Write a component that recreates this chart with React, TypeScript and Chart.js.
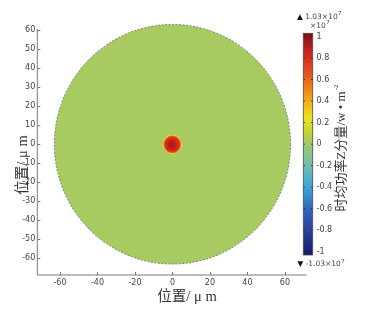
import React, { useEffect, useRef } from 'react';
import { Chart, registerables } from 'chart.js';

Chart.register(...registerables);

// ---- data ----
const X_TICKS = [-60, -40, -20, 0, 20, 40, 60];
const Y_TICKS = [60, 50, 40, 30, 20, 10, 0, -10, -20, -30, -40, -50, -60];
const X_MIN = -72.1;
const X_MAX = 71.6;
const Y_MIN = -68.75;
const Y_MAX = 60.6;
const DISK_RADIUS = 63; // µm, simulation domain
const SPOT_RADIUS = 5.2; // µm, hot spot
const DISK_COLOR = '#a8cb61';
const CB_TICKS = [1, 0.8, 0.6, 0.4, 0.2, 0, -0.2, -0.4, -0.6, -0.8, -1];
const CB_MIN = -1.03;
const CB_MAX = 1.03;
const CB_STOP_VALUES = [1.03, 0.85, 0.65, 0.45, 0.25, 0.08, 0, -0.2, -0.4, -0.6, -0.8, -1.03];
const CB_STOP_COLORS = ['#7c1212', '#cf2222', '#e9541e', '#f39a16', '#efe11e', '#b6d23e', '#9ec86a', '#6fbdb0', '#3ea5dc', '#2c68b9', '#2a42a0', '#1b1a6c'];
const CB_MAX_LABEL = '1.03×10';
const CB_MIN_LABEL = '-1.03×10';
const CB_EXP = '7';
const X_TITLE = '位置/ μ m';
const Y_TITLE = '位置/ μ m';
const CB_TITLE = '时均功率Z分量/w • m';
const CB_TITLE_SUP = '-2';

const TICK_FONT = '8px "DejaVu Sans"';
const TITLE_FONT = '14.5px "Liberation Serif", "Noto Sans CJK SC"';

const fieldPlugin = {
  id: 'fieldPlot',
  beforeDatasetsDraw(chart: any) {
    const { ctx, scales } = chart;
    const x = scales.x;
    const y = scales.y;
    const cx = x.getPixelForValue(0);
    const cy = y.getPixelForValue(0);
    const rx = Math.abs(x.getPixelForValue(DISK_RADIUS) - cx);
    const ry = Math.abs(y.getPixelForValue(DISK_RADIUS) - cy);
    ctx.save();
    ctx.beginPath();
    ctx.ellipse(cx, cy, rx, ry, 0, 0, Math.PI * 2);
    ctx.fillStyle = DISK_COLOR;
    ctx.fill();
    ctx.setLineDash([2, 1.5]);
    ctx.strokeStyle = '#5e5e5e';
    ctx.lineWidth = 0.8;
    ctx.stroke();
    ctx.setLineDash([]);

    // hot spot
    const srx = Math.abs(x.getPixelForValue(SPOT_RADIUS) - cx);
    const sry = Math.abs(y.getPixelForValue(SPOT_RADIUS) - cy);
    ctx.translate(cx, cy);
    ctx.scale(1, sry / srx);
    const g = ctx.createRadialGradient(-1.2, 1.2, 0, 0, 0, srx);
    g.addColorStop(0, '#9e1a1a');
    g.addColorStop(0.35, '#b81f1c');
    g.addColorStop(0.65, '#d92c1c');
    g.addColorStop(0.8, '#e8431a');
    g.addColorStop(0.88, '#f2901a');
    g.addColorStop(0.94, '#f0dc2a');
    g.addColorStop(1, 'rgba(200,210,90,0)');
    ctx.beginPath();
    ctx.arc(0, 0, srx, 0, Math.PI * 2);
    ctx.fillStyle = g;
    ctx.fill();
    ctx.restore();
  },
  afterDraw(chart: any) {
    const { ctx, chartArea, scales } = chart;
    const x = scales.x;
    const y = scales.y;
    ctx.save();
    // axis lines
    ctx.strokeStyle = '#7a7a7a';
    ctx.lineWidth = 1;
    ctx.beginPath();
    ctx.moveTo(chartArea.left, chartArea.top);
    ctx.lineTo(chartArea.left, chartArea.bottom);
    ctx.lineTo(chartArea.right, chartArea.bottom);
    ctx.stroke();
    // inward ticks
    ctx.beginPath();
    X_TICKS.forEach((v) => {
      const px = Math.round(x.getPixelForValue(v)) + 0.5;
      ctx.moveTo(px, chartArea.bottom);
      ctx.lineTo(px, chartArea.bottom - 3);
    });
    Y_TICKS.forEach((v) => {
      const py = Math.round(y.getPixelForValue(v)) + 0.5;
      ctx.moveTo(chartArea.left, py);
      ctx.lineTo(chartArea.left + 3, py);
    });
    ctx.stroke();

    // axis titles
    ctx.fillStyle = '#333';
    ctx.font = TITLE_FONT;
    ctx.textAlign = 'center';
    ctx.textBaseline = 'middle';
    ctx.fillText(X_TITLE, 187, 297);
    ctx.save();
    ctx.translate(23, 165);
    ctx.rotate(-Math.PI / 2);
    ctx.fillText(Y_TITLE, 0, 0);
    ctx.restore();

    // colorbar
    const bl = 303.3;
    const br = 312.7;
    const bt = 33.3;
    const bb = 255;
    const vy = (v: number) => bt + ((CB_MAX - v) / (CB_MAX - CB_MIN)) * (bb - bt);
    const grad = ctx.createLinearGradient(0, bt, 0, bb);
    CB_STOP_VALUES.forEach((v, i) => {
      grad.addColorStop((CB_MAX - v) / (CB_MAX - CB_MIN), CB_STOP_COLORS[i]);
    });
    ctx.fillStyle = grad;
    ctx.fillRect(bl, bt, br - bl, bb - bt);
    ctx.strokeStyle = '#4a4a4a';
    ctx.lineWidth = 0.8;
    ctx.strokeRect(bl, bt, br - bl, bb - bt);
    ctx.strokeStyle = 'rgba(30,30,30,0.7)';
    ctx.lineWidth = 1;
    ctx.beginPath();
    CB_TICKS.forEach((v) => {
      const py = vy(v);
      ctx.moveTo(bl, py);
      ctx.lineTo(bl + 1.8, py);
      ctx.moveTo(br, py);
      ctx.lineTo(br - 1.8, py);
    });
    ctx.stroke();
    ctx.fillStyle = '#444';
    ctx.font = TICK_FONT;
    ctx.textAlign = 'left';
    ctx.textBaseline = 'middle';
    CB_TICKS.forEach((v) => {
      ctx.fillText(String(v), 316.5, vy(v));
    });

    // range labels
    const drawSci = (lead: string, text: string, lx: number, ly: number) => {
      ctx.font = '7.5px "DejaVu Sans"';
      ctx.textAlign = 'left';
      ctx.fillStyle = '#111';
      ctx.fillText(lead, lx, ly);
      const lw = ctx.measureText(lead + ' ').width;
      ctx.fillStyle = '#444';
      ctx.fillText(text, lx + lw, ly);
      const tw = ctx.measureText(text).width;
      ctx.font = '5.5px "DejaVu Sans"';
      ctx.fillText(CB_EXP, lx + lw + tw + 0.3, ly - 3);
    };
    drawSci('▲', CB_MAX_LABEL, 297, 17);
    ctx.font = '7.5px "DejaVu Sans"';
    ctx.fillStyle = '#444';
    ctx.fillText('×10', 310, 26);
    const w10 = ctx.measureText('×10').width;
    ctx.font = '5.5px "DejaVu Sans"';
    ctx.fillText(CB_EXP, 310 + w10 + 0.3, 23);
    drawSci('▼', CB_MIN_LABEL, 297.5, 264.5);

    // colorbar title
    ctx.save();
    ctx.translate(341.5, 148);
    ctx.rotate(-Math.PI / 2);
    ctx.font = '13px "Liberation Serif", "Noto Sans CJK SC"';
    ctx.fillStyle = '#333';
    const mainW = ctx.measureText(CB_TITLE).width;
    ctx.font = '7px "Liberation Serif", "Noto Sans CJK SC"';
    const supW = ctx.measureText(CB_TITLE_SUP).width;
    const total = mainW + supW + 1;
    ctx.textAlign = 'left';
    ctx.font = '13px "Liberation Serif", "Noto Sans CJK SC"';
    ctx.fillText(CB_TITLE, -total / 2, 0);
    ctx.font = '7px "Liberation Serif", "Noto Sans CJK SC"';
    ctx.fillText(CB_TITLE_SUP, -total / 2 + mainW + 1, -5);
    ctx.restore();

    ctx.restore();
  },
};

export default function App() {
  const ref = useRef<HTMLCanvasElement>(null);
  useEffect(() => {
    if (!ref.current) return;
    const chart = new Chart(ref.current, {
      type: 'scatter',
      data: {
        datasets: [
          {
            data: [{ x: 0, y: 0 }],
            pointRadius: 0,
            showLine: false,
          },
        ],
      },
      options: {
        animation: false,
        responsive: false,
        events: [],
        layout: { padding: { left: 0, top: 29, right: 365 - 306.7, bottom: 0 } },
        plugins: { legend: { display: false }, tooltip: { enabled: false } },
        scales: {
          x: {
            type: 'linear',
            min: X_MIN,
            max: X_MAX,
            afterBuildTicks: (s: any) => {
              s.ticks = X_TICKS.map((v) => ({ value: v }));
            },
            afterFit: (s: any) => {
              s.height = 313 - 275;
            },
            grid: { display: false, drawTicks: false },
            border: { display: false },
            ticks: {
              padding: 3,
              color: '#444',
              font: { family: 'DejaVu Sans', size: 8 },
              maxRotation: 0,
              autoSkip: false,
            },
          },
          y: {
            type: 'linear',
            min: Y_MIN,
            max: Y_MAX,
            afterBuildTicks: (s: any) => {
              s.ticks = Y_TICKS.map((v) => ({ value: v }));
            },
            afterFit: (s: any) => {
              s.width = 37.3;
            },
            grid: { display: false, drawTicks: false },
            border: { display: false },
            ticks: {
              padding: 2,
              color: '#444',
              font: { family: 'DejaVu Sans', size: 8 },
              autoSkip: false,
            },
          },
        },
      },
      plugins: [fieldPlugin],
    });
    return () => chart.destroy();
  }, []);
  return (
    <div style={{ position: 'fixed', left: 0, top: 0, width: 365, height: 313, background: '#fff' }}>
      <canvas ref={ref} width={365} height={313} style={{ display: 'block' }} />
    </div>
  );
}
